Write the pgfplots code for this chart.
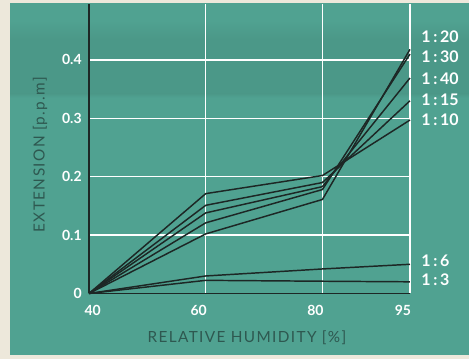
\documentclass[border=0pt]{standalone}
\usepackage{fontspec}
\setmainfont{Lato}
\newfontfamily\labelfont[LetterSpace=9]{Lato}
\usepackage{pgfplots}
\pgfplotsset{compat=1.18}
\definecolor{bgteal}{HTML}{50A291}
\definecolor{topteal}{HTML}{4B9888}
\definecolor{paper}{HTML}{EDE8DB}
\definecolor{labelc}{HTML}{2E5850}
\definecolor{ink}{HTML}{1D2725}
\begin{document}
\begin{tikzpicture}
% page background (paper) and teal print area
\fill[paper] (0,0) rectangle (351.75pt,269.25pt);
\fill[bgteal] (7.5pt,3pt) rectangle (351.75pt,267pt);
\shade[top color=bgteal, bottom color=topteal] (7.5pt,254pt) rectangle (351.75pt,240pt);
\fill[topteal] (7.5pt,240.2pt) rectangle (351.75pt,199pt);
\shade[top color=topteal, bottom color=bgteal] (7.5pt,199.2pt) rectangle (351.75pt,196pt);
\begin{axis}[
  at={(66.75pt,49.125pt)}, anchor=south west,
  scale only axis, width=240.75pt, height=216.8pt,
  xmin=40, xmax=95, ymin=0, ymax=0.495,
  xtick={40,60,80,95}, ytick={0,0.1,0.2,0.3,0.4},
  xticklabels={\hspace*{16pt}40,60,80,95},
  yticklabels={0,0.1,0.2,0.3,0.4},
  grid=major, major grid style={white, line width=1.1pt},
  axis x line*=bottom, axis y line*=left,
  axis line style={ink, line width=1.2pt, -},
  major tick length=0pt,
  tick label style={white, font=\bfseries\fontsize{10.5}{12}\selectfont},
  /pgf/number format/assume math mode=true,
  xticklabel style={xshift=-5.25pt, yshift=-5pt},
  yticklabel style={xshift=-2pt},
  xlabel={RELATIVE HUMIDITY [\%]},
  ylabel={EXTENSION [p.p.m]},
  every axis x label/.style={at={(axis description cs:0.492,-0.154)}, anchor=center, text=labelc, font=\labelfont\fontsize{11.5}{13}\selectfont},
  every axis y label/.style={at={(axis description cs:-0.1526,0.48)}, anchor=center, rotate=90, text=labelc, font=\labelfont\fontsize{11.5}{13}\selectfont},
  clip=false,
]
\addplot[ink, line width=1.1pt] coordinates {(40,0) (60,0.171) (80,0.202) (95,0.297)};
\addplot[ink, line width=1.1pt] coordinates {(40,0) (60,0.151) (80,0.190) (95,0.330)};
\addplot[ink, line width=1.1pt] coordinates {(40,0) (60,0.138) (80,0.183) (95,0.369)};
\addplot[ink, line width=1.1pt] coordinates {(40,0) (60,0.121) (80,0.178) (95,0.410)};
\addplot[ink, line width=1.1pt] coordinates {(40,0) (60,0.102) (80,0.161) (95,0.418)};
\addplot[ink, line width=1.1pt] coordinates {(40,0) (60,0.030) (80,0.042) (95,0.050)};
\addplot[ink, line width=1.1pt] coordinates {(40,0) (60,0.0225) (80,0.021) (95,0.020)};
\begin{scope}[every node/.style={anchor=west, text=white, font=\bfseries\fontsize{12}{14}\selectfont, inner sep=0pt}]
\node at (axis cs:96.9,0.439) {1\,:\,20};
\node at (axis cs:96.9,0.405) {1\,:\,30};
\node at (axis cs:96.9,0.367) {1\,:\,40};
\node at (axis cs:96.9,0.331) {1\,:\,15};
\node at (axis cs:96.9,0.297) {1\,:\,10};
\node at (axis cs:96.9,0.0557) {1\,:\,6};
\node at (axis cs:96.9,0.0231) {1\,:\,3};
\end{scope}
\end{axis}
\end{tikzpicture}
\end{document}
